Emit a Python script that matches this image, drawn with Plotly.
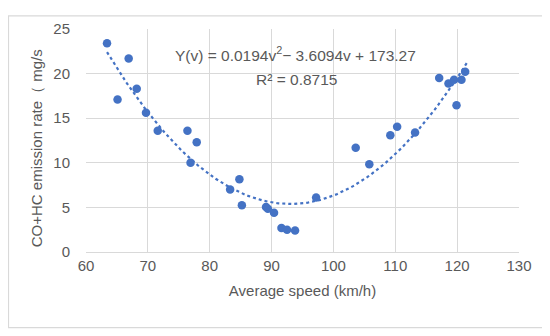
import plotly.graph_objects as go
import numpy as np

# measured points
speed = [63.4, 65.1, 66.9, 68.2, 69.7, 71.6, 76.4, 77.9, 76.9, 84.8, 83.3, 85.2,
         89.1, 89.4, 90.4, 91.6, 92.5, 93.8, 97.2, 103.6, 105.8, 109.2, 110.3,
         113.2, 117.1, 118.6, 119.5, 119.9, 120.7, 121.3]
emission = [23.4, 17.1, 21.7, 18.3, 15.6, 13.6, 13.6, 12.3, 10.0, 8.15, 7.0, 5.25,
            5.05, 4.85, 4.4, 2.7, 2.5, 2.4, 6.1, 11.7, 9.85, 13.1, 14.05,
            13.4, 19.5, 18.9, 19.3, 16.45, 19.3, 20.2]

# trendline coefficients shown on the chart
coef = [0.0194, -3.6094, 173.27]
trend_range = [63.4, 121.6]

blue = "#4472C4"
grey = "#595959"
grid = "#D9D9D9"
font = "Liberation Sans, Arial, sans-serif"

tx = np.linspace(trend_range[0], trend_range[1], 200)
ty = np.polyval(coef, tx)

fig = go.Figure()
fig.add_trace(go.Scatter(x=tx, y=ty, mode="lines",
                         line=dict(color=blue, width=2.2, dash="dot"),
                         hoverinfo="skip"))
fig.add_trace(go.Scatter(x=speed, y=emission, mode="markers",
                         marker=dict(color=blue, size=8.5)))

# the page body adds 8px, so the figure is 8px smaller;
# plot area ends up at (86, 22) on the page, 433 x 230 px
pw, ph = 433, 230

fig.update_layout(
    width=542, height=328,
    margin=dict(l=78, r=31, t=14, b=84),
    paper_bgcolor="white", plot_bgcolor="white",
    showlegend=False,
    font=dict(family=font, size=15, color=grey),
    xaxis=dict(range=[60, 130], dtick=10, showgrid=True, gridcolor=grid,
               gridwidth=1, showline=True, linecolor=grid, linewidth=1,
               zeroline=False, ticks="", tickfont=dict(size=15, color=grey),
               title=dict(text="Average speed (km/h)", standoff=12,
                          font=dict(size=15, color=grey))),
    yaxis=dict(range=[0, 25], dtick=5, showgrid=True, gridcolor=grid,
               gridwidth=1, showline=False, zeroline=False, ticks="outside",
               ticklen=12, tickcolor="rgba(0,0,0,0)",
               tickfont=dict(size=15, color=grey)),
    shapes=[dict(type="rect", xref="paper", yref="paper",
                 x0=(8.5 - 86) / pw, x1=1 + 28 / pw,
                 y0=-78 / ph, y1=1 + 13.5 / ph,
                 line=dict(color="#D9D9D9", width=1.2), layer="above")],
    annotations=[
        dict(text="CO+HC emission rate（ mg/s", textangle=-90, xref="paper",
             yref="paper", x=(36 - 86) / pw, y=(252 - 145) / ph, showarrow=False,
             xanchor="center", yanchor="middle",
             font=dict(size=15, color=grey)),
        dict(text="Y(v) = 0.0194v<sup>2</sup>\u2212 3.6094v + 173.27", xref="paper",
             yref="paper", x=(295 - 86) / pw, y=(252 - 48) / ph,
             showarrow=False, xanchor="center", yanchor="middle",
             font=dict(size=15.5, color=grey)),
        dict(text="R² = 0.8715", xref="paper", yref="paper",
             x=(296 - 86) / pw, y=(252 - 74) / ph, showarrow=False,
             xanchor="center", yanchor="middle",
             font=dict(size=15.5, color=grey)),
    ],
)

fig.write_html("out.html")
